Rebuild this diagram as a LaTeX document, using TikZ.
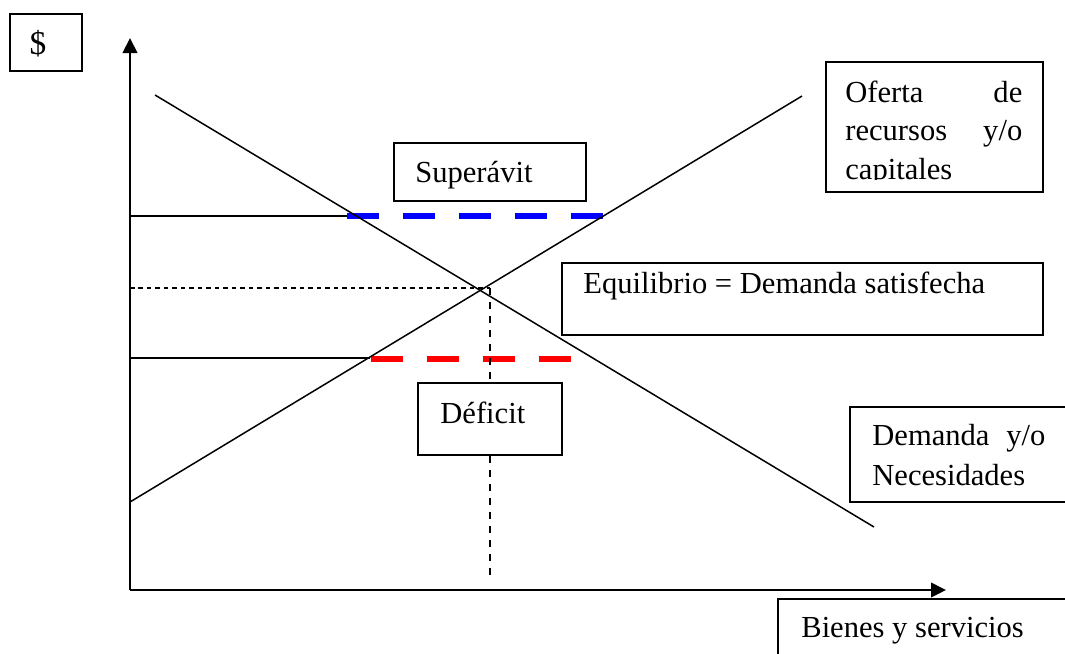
\documentclass[tikz,border=0pt]{standalone}
\usepackage{fontspec}
\setmainfont{Liberation Serif}
\usetikzlibrary{arrows.meta,positioning}

\tikzset{
  box/.style={draw, fill=white, line width=0.95pt, inner sep=0pt},
  boxtext/.style={inner sep=0pt, anchor=base west, font=\fontsize{17.4pt}{21pt}\selectfont},
  axis/.style={line width=1.2pt, -{Triangle[length=0.3cm,width=0.29cm]}},
  mainline/.style={line width=0.85pt},
  guideline/.style={line width=0.7pt, dash pattern=on 0.09cm off 0.08cm},
  gapline/.style={line width=0.12cm, dash pattern=on 0.64cm off 0.48cm},
}

\begin{document}
\begin{tikzpicture}[x=0.02cm, y=-0.02cm]
  \useasboundingbox (0,0) rectangle (1065,653);

  % axes
  \coordinate (O) at (130,590);
  \coordinate (Ytip) at (130,38);
  \coordinate (Xtip) at (946,590);
  \draw[axis] (O) -- (Ytip);
  \draw[axis] (O) -- (Xtip);

  % surplus and deficit gaps
  \coordinate (SupL) at (347,216);
  \coordinate (SupR) at (603,216);
  \coordinate (DefL) at (371,359);
  \coordinate (DefR) at (571,359);
  \draw[gapline, blue] (SupL) -- (SupR);
  \draw[gapline, red] (DefL) -- (DefR);

  % supply and demand
  \coordinate (S0) at (130,502);
  \coordinate (S1) at (802,96);
  \coordinate (D0) at (155,95);
  \coordinate (D1) at (874,527);
  \draw[mainline] (S0) -- (S1);
  \draw[mainline] (D0) -- (D1);

  % price levels
  \coordinate (Ysup) at (130,216);
  \coordinate (Ydef) at (130,358);
  \coordinate (Ydefend) at (370,358);
  \draw[mainline] (Ysup) -- (SupL);
  \draw[mainline] (Ydef) -- (Ydefend);

  % equilibrium
  \coordinate (Yeq) at (130,288);
  \coordinate (E) at (490,288);
  \coordinate (Xeq) at (490,575);
  \draw[guideline] (Yeq) -- (E);
  \draw[guideline, dash pattern=on 0.14cm off 0.14cm] (E) -- (Xeq);

  % boxes
  \node[box, minimum width=1.44cm, minimum height=1.14cm] (dollar) at (46,42.5) {};
  \node[box, minimum width=4.34cm, minimum height=2.6cm] (oferta) at (934.5,127) {};
  \node[box, minimum width=3.84cm, minimum height=1.16cm] (superavit) at (490,172) {};
  \node[box, minimum width=9.62cm, minimum height=1.44cm] (equilibrio) at (802.5,299) {};
  \node[box, minimum width=2.88cm, minimum height=1.44cm] (deficit) at (490,419) {};
  \node[box, minimum width=4.5cm, minimum height=1.9cm] (demanda) at (962.5,454.5) {};
  \node[box, minimum width=5.94cm, minimum height=1.32cm] (bienes) at (926.5,632) {};

  % texts
  \node[boxtext, anchor=center, font=\fontsize{19pt}{21pt}\selectfont] (dollartxt) at (38,44) {\$};
  \begin{scope}
    \clip (826,62) rectangle (1043,179);
    \node[boxtext, text width=3.54cm, align=left,
      font=\fontsize{17.4pt}{22.1pt}\selectfont] (ofertatxt) at (845,102)
      {Oferta\hfill de\\recursos\hfill y/o\\capitales};
  \end{scope}
  \node[boxtext] (superavittxt) at (415,182) {Superávit};
  \node[boxtext] (equilibriotxt) at (583,293) {Equilibrio = Demanda satisfecha};
  \node[boxtext] (deficittxt) at (440,423) {Déficit};
  \node[boxtext, text width=3.46cm, align=left,
    font=\fontsize{17.4pt}{22.8pt}\selectfont] (demandatxt) at (872,445)
    {Demanda\hfill y/o\\Necesidades};
  \node[boxtext] (bienestxt) at (801,637) {Bienes y servicios};

\end{tikzpicture}
\end{document}
